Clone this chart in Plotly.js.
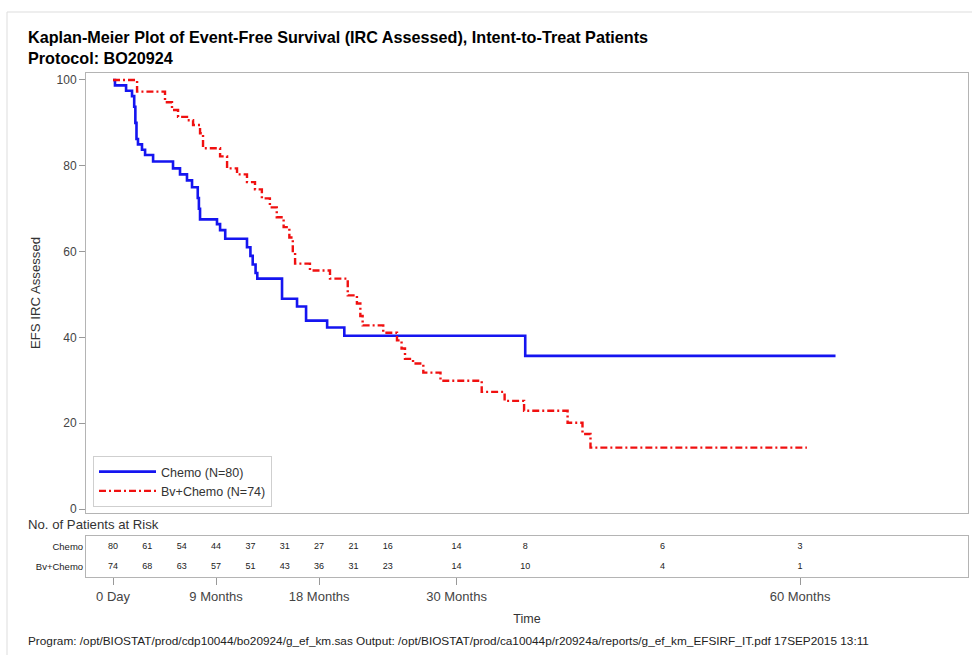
<!DOCTYPE html>
<html>
<head>
<meta charset="utf-8">
<script src="https://cdn.plot.ly/plotly-3.0.1.min.js"></script>
<style>
html,body{margin:0;padding:0;background:#fff;}
#chart{width:972px;height:655px;}
</style>
</head>
<body>
<div id="chart"></div>
<script>
// Kaplan-Meier step data (months, EFS %)
var chemoTime = [0, 0.17, 1.14, 1.66, 1.85, 1.95, 2.05, 2.18, 2.53, 2.8, 3.5, 5.24, 5.85, 6.46, 6.9, 7.4, 7.5, 7.6, 9.08, 9.35, 9.8, 11.7, 12.0, 12.2, 12.45, 12.6, 14.76, 16.07, 16.86, 18.7, 20.2, 36.0, 63.1];
var chemoSurv = [100, 98.75, 97.5, 96.25, 93.75, 90, 86.25, 85, 83.75, 82.5, 81, 79.4, 78, 76.6, 75, 72.5, 70, 67.5, 66.4, 65, 63, 61, 59, 57, 55, 53.7, 49, 47.2, 43.9, 42.3, 40.4, 35.7, 35.7];
var bvTime = [0, 2.1, 4.54, 5.15, 5.68, 6.46, 6.99, 7.6, 7.86, 9.35, 9.96, 10.83, 11.7, 12.4, 13.0, 13.7, 14.3, 14.9, 15.4, 15.7, 15.9, 17.2, 18.95, 20.5, 21.3, 21.6, 21.8, 23.6, 24.8, 25.2, 25.5, 26.2, 27.1, 28.6, 32.2, 34.2, 35.9, 39.7, 41.0, 41.7, 60.6];
var bvSurv = [100, 97.3, 94.8, 93, 91.4, 90.6, 89.5, 87.6, 84.1, 82.2, 79.4, 78, 76.2, 74.5, 72.4, 70.3, 68, 65.7, 63.3, 59.8, 57.2, 55.6, 53.7, 49.8, 47.9, 45, 42.8, 41.1, 39.3, 37.4, 35, 33.9, 31.8, 29.9, 27.3, 25.2, 22.9, 20.1, 17.5, 14.3, 14.3];

// Patients at risk
var riskTimes = [0, 3, 6, 9, 12, 15, 18, 21, 24, 30, 36, 48, 60];
var chemoRisk = [80, 61, 54, 44, 37, 31, 27, 21, 16, 14, 8, 6, 3];
var bvRisk = [74, 68, 63, 57, 51, 43, 36, 31, 23, 14, 10, 4, 1];
var riskRows = ["Chemo", "Bv+Chemo"];

// Axis tick labels
var xTickVals = [0, 9, 18, 30, 60];
var xTickText = ["0 Day", "9 Months", "18 Months", "30 Months", "60 Months"];
var yTickVals = [0, 20, 40, 60, 80, 100];

var FONT = "Liberation Sans, Arial, sans-serif";
var frameColor = "#b4b4b4";

var traces = [
  {x: chemoTime, y: chemoSurv, type: "scatter", mode: "lines", line: {shape: "hv", color: "#1515f0", width: 2.6},
   name: "Chemo (N=80)", xaxis: "x", yaxis: "y", hoverinfo: "skip"},
  {x: bvTime, y: bvSurv, type: "scatter", mode: "lines", line: {shape: "hv", color: "#f01010", width: 2.4, dash: "7px,3px,2px,3px"},
   name: "Bv+Chemo (N=74)", xaxis: "x", yaxis: "y", hoverinfo: "skip"},
  {x: riskTimes, y: riskTimes.map(function(){return riskRows[0];}), text: chemoRisk.map(String), type: "scatter", mode: "text",
   textfont: {family: FONT, size: 9, color: "#222"}, xaxis: "x2", yaxis: "y2", showlegend: false, hoverinfo: "skip"},
  {x: riskTimes, y: riskTimes.map(function(){return riskRows[1];}), text: bvRisk.map(String), type: "scatter", mode: "text",
   textfont: {family: FONT, size: 9, color: "#222"}, xaxis: "x2", yaxis: "y2", showlegend: false, hoverinfo: "skip"}
];

var xRange = [-2.36, 74.67];

var layout = {
  width: 972, height: 655,
  margin: {l: 86, r: 4, t: 73, b: 78, autoexpand: false},
  paper_bgcolor: "#fff", plot_bgcolor: "#fff",
  font: {family: FONT, size: 12, color: "#333"},
  title: {
    text: "Kaplan-Meier Plot of Event-Free Survival (IRC Assessed), Intent-to-Treat Patients<br>Protocol: BO20924",
    font: {family: FONT, size: 16.2, color: "#000", weight: "bold"},
    xref: "container", yref: "container", x: 28/972, xanchor: "left", y: 1 - 43/655, yanchor: "middle"
  },
  showlegend: true,
  legend: {
    x: (93-86)/882, y: (577-507)/504, xanchor: "left", yanchor: "bottom",
    bgcolor: "#fff", bordercolor: "#cfcfcf", borderwidth: 1,
    font: {family: FONT, size: 12.5, color: "#333"}, itemwidth: 57, tracegroupgap: 0
  },
  xaxis: {
    domain: [0, 1], anchor: "y", range: xRange, showticklabels: false, ticks: "",
    showgrid: false, zeroline: false, showline: true, mirror: true, linecolor: frameColor, linewidth: 1
  },
  yaxis: {
    domain: [(577-513)/504, 1], anchor: "x", range: [-0.93, 101.63],
    tickvals: yTickVals, ticks: "outside", ticklen: 6, tickcolor: "#999",
    tickfont: {family: FONT, size: 12, color: "#444"},
    showgrid: false, zeroline: false, showline: true, mirror: true, linecolor: frameColor, linewidth: 1,
    title: {text: "EFS IRC Assessed", font: {family: FONT, size: 13.2, color: "#333"}, standoff: 12}
  },
  xaxis2: {
    domain: [0, 1], anchor: "y2", range: xRange, matches: "x",
    tickvals: xTickVals, ticktext: xTickText, ticks: "outside", ticklen: 7, tickcolor: "#999",
    tickfont: {family: FONT, size: 13, color: "#444"},
    showgrid: false, zeroline: false, showline: true, mirror: true, linecolor: frameColor, linewidth: 1,
    title: {text: "Time", font: {family: FONT, size: 12.5, color: "#333"}, standoff: 11}
  },
  yaxis2: {
    domain: [0, (577-536)/504], anchor: "x2", type: "category",
    categoryorder: "array", categoryarray: [riskRows[1], riskRows[0]],
    range: [-0.5, 1.5], ticks: "", tickfont: {family: FONT, size: 9.5, color: "#222"},
    showgrid: false, zeroline: false, showline: true, mirror: true, linecolor: frameColor, linewidth: 1
  },
  annotations: [
    {text: "No. of Patients at Risk", xref: "paper", yref: "paper", x: (26-86)/882, y: (577-524)/504,
     xanchor: "left", yanchor: "middle", showarrow: false, font: {family: FONT, size: 13.2, color: "#333"}},
    {text: "Program: /opt/BIOSTAT/prod/cdp10044/bo20924/g_ef_km.sas Output: /opt/BIOSTAT/prod/ca10044p/r20924a/reports/g_ef_km_EFSIRF_IT.pdf 17SEP2015 13:11",
     xref: "paper", yref: "paper", x: (26-86)/882, y: (577-641)/504, xanchor: "left", yanchor: "middle",
     showarrow: false, font: {family: "Liberation Sans Narrow, Liberation Sans, Arial, sans-serif", size: 11.8, color: "#222"}}
  ],
  shapes: [
    {type: "line", xref: "paper", yref: "paper", x0: (7-86)/882, x1: (972-86)/882, y0: (577-12)/504, y1: (577-12)/504,
     line: {color: "#dddddd", width: 1}},
    {type: "line", xref: "paper", yref: "paper", x0: (7-86)/882, x1: (7-86)/882, y0: (577-12)/504, y1: (577-655)/504,
     line: {color: "#dddddd", width: 1}}
  ]
};

Plotly.newPlot("chart", traces, layout, {staticPlot: true, displayModeBar: false});
</script>
</body>
</html>
